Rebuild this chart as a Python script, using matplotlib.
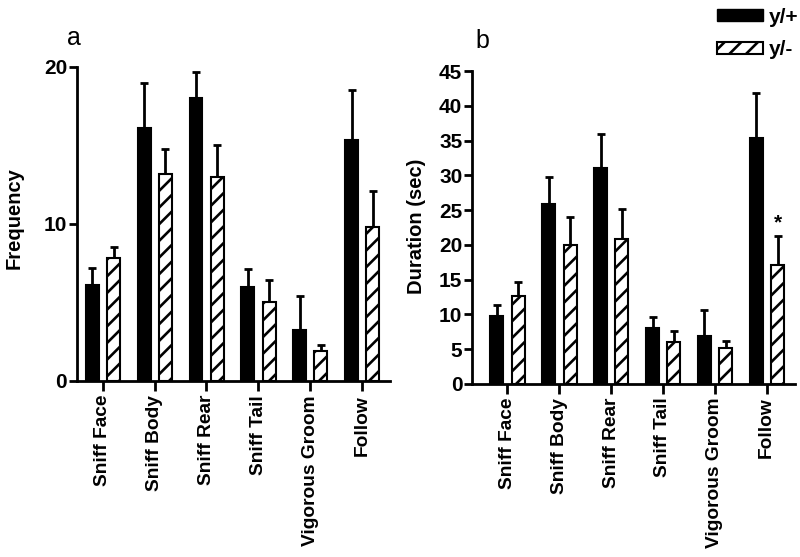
import numpy as np
import matplotlib
matplotlib.use('Agg')
import matplotlib.pyplot as plt
from matplotlib.patches import Patch

plt.rcParams['font.family'] = ['Liberation Sans', 'DejaVu Sans']
plt.rcParams['font.weight'] = 'bold'
plt.rcParams['hatch.linewidth'] = 1.9

categories = ['Sniff Face', 'Sniff Body', 'Sniff Rear', 'Sniff Tail', 'Vigorous Groom', 'Follow']

# panel a: frequency
freq_wt = [6.1, 16.1, 18.0, 6.0, 3.25, 15.35]
freq_wt_err = [1.1, 2.9, 1.7, 1.1, 2.15, 3.15]
freq_ko = [7.8, 13.2, 13.0, 5.0, 1.9, 9.8]
freq_ko_err = [0.7, 1.6, 2.0, 1.4, 0.4, 2.3]

# panel b: duration (sec)
dur_wt = [9.7, 25.9, 31.1, 8.0, 6.9, 35.4]
dur_wt_err = [1.6, 3.9, 4.9, 1.6, 3.7, 6.5]
dur_ko = [12.7, 20.0, 20.8, 6.0, 5.2, 17.1]
dur_ko_err = [1.9, 4.0, 4.4, 1.6, 0.9, 4.2]

fig = plt.figure(figsize=(8, 5.57), dpi=100)
ax1 = fig.add_axes([0.096, 0.316, 0.392, 0.564])
ax2 = fig.add_axes([0.59, 0.311, 0.404, 0.5615])

def draw(ax, wt, wt_err, ko, ko_err, ymax, yticks, xmin):
    x = np.arange(len(categories))
    w = 0.25
    ax.bar(x - 0.2, wt, w, color='black', edgecolor='black', linewidth=1.5, zorder=2)
    ax.bar(x + 0.21, ko, w, color='white', edgecolor='black', hatch='//', linewidth=1.5, zorder=2)
    ax.errorbar(x - 0.2, wt, yerr=[np.zeros(len(wt)), wt_err], fmt='none',
                ecolor='black', elinewidth=2, capsize=3, capthick=2, zorder=1)
    ax.errorbar(x + 0.21, ko, yerr=[np.zeros(len(ko)), ko_err], fmt='none',
                ecolor='black', elinewidth=2, capsize=3, capthick=2, zorder=1)
    ax.set_xlim(xmin, 5.55)
    ax.set_ylim(0, ymax)
    ax.set_yticks(yticks)
    ax.set_xticks(x)
    ax.set_xticklabels(categories, rotation=90, fontweight='bold')
    for s in ['top', 'right']:
        ax.spines[s].set_visible(False)
    for s in ['left', 'bottom']:
        ax.spines[s].set_linewidth(2)
    ax.tick_params(axis='y', width=2, length=6, labelsize=15, pad=1)
    ax.tick_params(axis='x', width=2, length=7, labelsize=13.8, pad=3)
    for t in ax.get_yticklabels():
        t.set_fontweight('bold')

draw(ax1, freq_wt, freq_wt_err, freq_ko, freq_ko_err, 20, [0, 10, 20], -0.5)
ax1.set_ylabel('Frequency', fontsize=14.5, fontweight='bold')
ax1.yaxis.set_label_coords(-0.17, 0.52)
ax1.text(-0.03, 1.07, 'a', transform=ax1.transAxes, fontsize=18, fontweight='normal')

draw(ax2, dur_wt, dur_wt_err, dur_ko, dur_ko_err, 45, np.arange(0, 46, 5), -0.68)
ax2.set_ylabel('Duration (sec)', fontsize=14.5, fontweight='bold')
ax2.yaxis.set_label_coords(-0.142, 0.503)
ax2.text(0.01, 1.075, 'b', transform=ax2.transAxes, fontsize=18, fontweight='normal')
ax2.text(5 + 0.21, dur_ko[5] + dur_ko_err[5] + 0.5, '*', ha='center', va='bottom', fontsize=15)

handles = [Patch(facecolor='black', edgecolor='black', label='y/+'),
           Patch(facecolor='white', edgecolor='black', hatch='//', linewidth=1.5, label='y/-')]
fig.legend(handles=handles, loc='upper right', bbox_to_anchor=(1.022, 1.02), frameon=False,
           fontsize=15, handlelength=2.2, handleheight=0.5, labelspacing=0.65, handletextpad=0.3)

fig.savefig('out.png', dpi=100)
